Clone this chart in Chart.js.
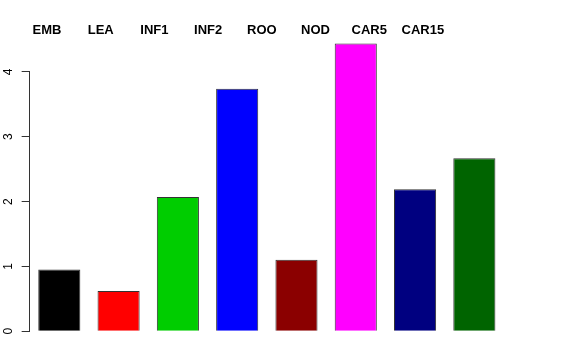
<!DOCTYPE html>
<html lang="en">
  <head>
    <meta charset="UTF-8" />
    <title>Barplot</title>
    <script src="https://cdn.jsdelivr.net/npm/chart.js"></script>
    <style>
      body {
        margin: 0;
        background: #fff;
      }
      #chart-container {
        width: 576px;
        height: 360px;
      }
    </style>
  </head>
  <body>
    <div id="chart-container">
      <canvas id="myChart"></canvas>
    </div>

    <script>
      const categories = ["EMB", "LEA", "INF1", "INF2", "ROO", "NOD", "CAR5", "CAR15"];
      const values = [0.95, 0.62, 2.07, 3.74, 1.10, 4.44, 2.19, 2.67];
      const barColors = ["#000000", "#FF0000", "#00CD00", "#0000FF", "#8B0000", "#FF00FF", "#000080", "#006400"];
      const yTicks = [0, 1, 2, 3, 4];

      // range of the top label axis (labels are spaced tighter than the bars)
      const topMin = -0.323;
      const topMax = 8.51;

      // y axis line only from first to last tick, like R's axis()
      const axisLine = {
        id: "axisLine",
        afterDraw(chart) {
          const y = chart.scales.y;
          const ctx = chart.ctx;
          const x = Math.round(y.right) - 0.5;
          ctx.save();
          ctx.strokeStyle = "#333";
          ctx.lineWidth = 1;
          ctx.beginPath();
          ctx.moveTo(x, y.getPixelForValue(yTicks[0]));
          ctx.lineTo(x, y.getPixelForValue(yTicks[yTicks.length - 1]));
          ctx.stroke();
          ctx.restore();
        },
      };

      const ctx = document.getElementById("myChart").getContext("2d");
      const myChart = new Chart(ctx, {
        type: "bar",
        data: {
          labels: categories,
          datasets: [
            {
              data: values,
              backgroundColor: barColors,
              borderColor: "#333",
              borderWidth: 1,
              barPercentage: 1,
              categoryPercentage: 0.71,
              xAxisID: "x",
            },
          ],
        },
        options: {
          responsive: true,
          maintainAspectRatio: false,
          animation: false,
          layout: { padding: { left: 0, right: 72, top: 0, bottom: 16.8 } },
          plugins: {
            legend: { display: false },
            tooltip: { enabled: false },
          },
          scales: {
            x: { display: false },
            x2: {
              type: "linear",
              position: "top",
              offset: false,
              min: topMin,
              max: topMax,
              grid: { display: false, drawTicks: false, offset: false },
              border: { display: false },
              afterBuildTicks: (scale) => {
                scale.ticks = categories.map((c, i) => ({ value: i }));
              },
              afterFit: (scale) => {
                scale.height = 39.6;
              },
              ticks: {
                autoSkip: false,
                maxRotation: 0,
                padding: 1,
                color: "#000",
                font: { family: "'Liberation Sans', Arial, sans-serif", size: 13, weight: "bold" },
                callback: (v, i) => categories[i],
              },
            },
            y: {
              min: -0.18,
              max: 4.5,
              grid: { drawOnChartArea: false, tickLength: 8, color: "#333" },
              border: { display: false },
              afterBuildTicks: (scale) => {
                scale.ticks = yTicks.map((v) => ({ value: v }));
              },
              afterFit: (scale) => {
                scale.width = 29.65;
              },
              ticks: {
                minRotation: 90,
                maxRotation: 90,
                crossAlign: "center",
                padding: 10,
                color: "#000",
                font: { family: "'Liberation Sans', Arial, sans-serif", size: 12 },
              },
            },
          },
        },
        plugins: [axisLine],
      });
    </script>
  </body>
</html>
